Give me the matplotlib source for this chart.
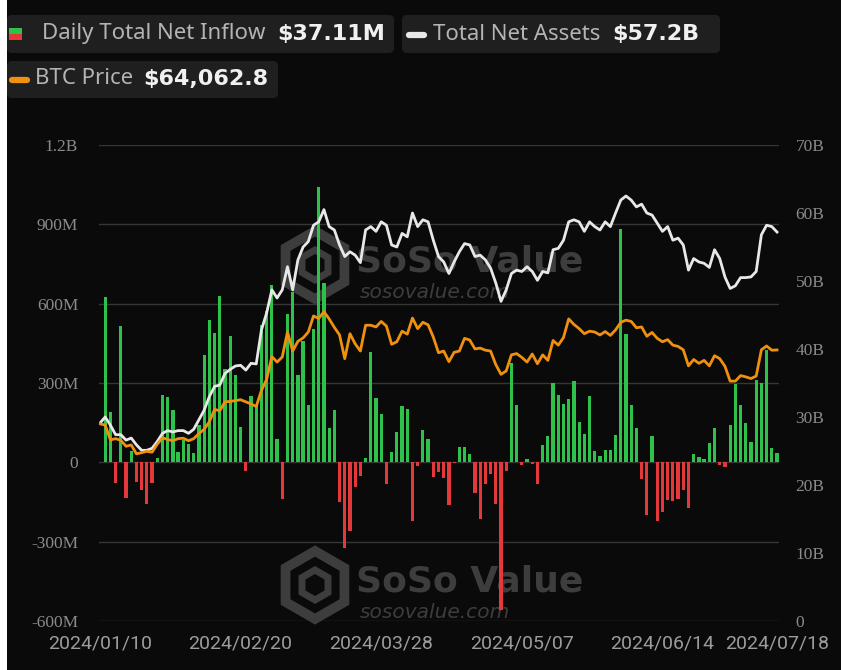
import numpy as np
import pandas as pd
import matplotlib
matplotlib.use("Agg")
import matplotlib.pyplot as plt
from matplotlib.patches import FancyBboxPatch, Rectangle, RegularPolygon

# trading days (US holidays removed)
holidays = ["2024-01-15", "2024-02-19", "2024-03-29", "2024-05-27", "2024-06-19", "2024-07-04"]
dates = pd.bdate_range("2024-01-10", "2024-07-18").drop(pd.to_datetime(holidays))

# daily total net inflow, $M
inflow = [0, 624, 191, -77, 515, -133, 43, -75, -104, -157,
          -77, 15, 254, 246, 197, 38, 84, 68, 34, 140,
          404, 538, 490, 628, 354, 476, 329, 134, -33, 251,
          212, 520, 574, 670, 90, -138, 561, 643, 331, 457,
          218, 505, 1042, 680, 131, 197, -151, -324, -259, -92,
          -51, 15, 417, 244, 182, -83, 40, 113, 212, 203,
          -221, -14, 122, 90, -54, -35, -58, -161, -4, 59,
          59, 30, -117, -213, -83, -45, -158, -560, -33, 377,
          216, -10, 11, -8, -82, 65, 100, 301, 254, 220,
          241, 306, 151, 107, 251, 43, 25, 46, 46, 103,
          884, 486, 216, 131, -64, -198, 100, -223, -186, -144,
          -148, -138, -104, -173, 30, 21, 11, 72, 128, -10,
          -19, 143, 298, 216, 147, 78, 310, 301, 423, 53,
          37]

# total net assets, $B
net_assets = [29.1, 30.0, 28.8, 27.4, 27.4, 26.6, 26.9, 25.9, 25.1, 25.1,
              25.4, 26.4, 27.6, 28.0, 27.8, 28.0, 28.0, 27.6, 28.2, 29.6,
              31.0, 33.0, 34.5, 34.7, 36.4, 37.0, 37.5, 37.6, 36.9, 37.9,
              37.8, 42.8, 45.3, 48.7, 47.5, 48.7, 52.1, 48.7, 53.1, 55.0,
              55.8, 58.2, 58.7, 60.5, 58.0, 57.5, 55.3, 53.6, 54.3, 53.8,
              52.7, 57.5, 58.0, 57.3, 58.7, 58.2, 55.3, 55.0, 57.0, 56.5,
              60.0, 58.0, 59.0, 58.7, 56.0, 53.6, 52.8, 51.1, 52.8, 54.3,
              55.5, 55.3, 53.6, 53.8, 53.1, 51.9, 49.7, 47.0, 48.7, 51.1,
              51.6, 51.4, 52.1, 51.4, 50.1, 51.4, 51.2, 54.6, 54.8, 56.0,
              58.7, 59.0, 58.7, 57.3, 58.7, 58.0, 57.5, 58.7, 58.0, 60.0,
              61.9, 62.5, 61.9, 60.9, 61.3, 60.0, 59.7, 58.5, 57.3, 58.0,
              56.0, 56.3, 55.3, 51.6, 53.3, 52.8, 52.6, 52.0, 54.6, 53.3,
              50.6, 48.9, 49.3, 50.5, 50.5, 50.6, 51.4, 56.8, 58.2, 58.0,
              57.2]

# BTC price, $
btc_price = [46600, 46300, 42800, 43100, 42700, 41300, 41600, 39500, 39800, 40100,
             39900, 41800, 43300, 42900, 42600, 43100, 43200, 42600, 43100, 44300,
             45300, 47100, 50000, 49700, 51800, 51900, 52100, 52300, 51800, 51300,
             50700, 54500, 57100, 62500, 61200, 62400, 68300, 63800, 66100, 66900,
             68300, 72100, 71500, 73100, 71400, 69400, 67600, 62000, 67900, 65500,
             63800, 69900, 69900, 69500, 70800, 69700, 65400, 66000, 68500, 67800,
             71600, 69100, 70600, 70000, 67100, 63400, 63800, 61300, 63500, 63800,
             66800, 66400, 64300, 64500, 64000, 63800, 60600, 58300, 59100, 62900,
             63200, 62300, 61200, 63100, 60800, 62900, 61600, 66300, 65200, 67000,
             71400, 70100, 69100, 67900, 68500, 68300, 67600, 68400, 67500, 68800,
             70600, 71100, 70800, 69300, 69500, 67300, 68200, 66800, 66000, 66500,
             65200, 64900, 64100, 60300, 61800, 60900, 61600, 60300, 62700, 62000,
             60200, 56700, 56700, 58000, 57700, 57300, 57900, 64100, 65000, 64000,
             64063]

tick_dates = ["2024-01-10", "2024-02-20", "2024-03-28", "2024-05-07", "2024-06-14", "2024-07-18"]
left_ticks = [-600, -300, 0, 300, 600, 900, 1200]
left_labels = ["-600M", "-300M", "0", "300M", "600M", "900M", "1.2B"]
right_ticks = [0, 10, 20, 30, 40, 50, 60, 70]
right_labels = ["0", "10B", "20B", "30B", "40B", "50B", "60B", "70B"]

BG = "#0a0a0a"
GREEN = "#2ec24a"
RED = "#e5383b"
ORANGE = "#f0900f"
WHITE = "#e8e8e8"
GRID = "#363636"
TICK = "#8a8a8a"

W, H = 841, 670
fig = plt.figure(figsize=(W / 100, H / 100), dpi=100, facecolor=BG)


def inch(x, y):
    # pixel position (from top-left) -> inches for dpi_scale_trans
    return x / 100, (H - y) / 100


ax = fig.add_axes([99 / W, 1 - 621 / H, (779 - 99) / W, (621 - 145) / H])
ax.set_facecolor("none")
x = np.arange(len(dates))
flow = np.array(inflow)
ax.bar(x, flow, width=0.62, color=np.where(flow >= 0, GREEN, RED), zorder=2)
ax.set_ylim(-600, 1200)
ax.set_xlim(-0.19, 130.38)
ax.set_yticks(left_ticks)
ax.set_yticklabels(left_labels, family=["Liberation Serif", "DejaVu Serif"], fontsize=12.5, color=TICK)
ax.yaxis.grid(True, color=GRID, lw=1, zorder=0)
ax.tick_params(axis="y", length=0, pad=15)
pos = [list(dates).index(pd.Timestamp(d)) for d in tick_dates]
ax.set_xticks(pos)
ax.set_xticklabels([dates[p].strftime("%Y/%m/%d") for p in pos],
                   family=["Roboto", "DejaVu Sans"], fontsize=14, color="#9c9c9c")
ax.tick_params(axis="x", length=0, pad=10)
for s in ax.spines.values():
    s.set_visible(False)

ax2 = ax.twinx()
ax2.plot(x, net_assets, color=WHITE, lw=2, zorder=3)
ax2.set_ylim(0, 70)
ax2.set_yticks(right_ticks)
ax2.set_yticklabels(right_labels, family=["Liberation Serif", "DejaVu Serif"], fontsize=12.5, color=TICK)
ax2.tick_params(axis="y", length=0, pad=12)
for s in ax2.spines.values():
    s.set_visible(False)

ax3 = ax.twinx()
ax3.plot(x, btc_price, color=ORANGE, lw=2, zorder=3)
ax3.set_ylim(0, 112500)
ax3.set_xlim(-0.19, 130.38)
ax3.axis("off")

# watermarks
wm = "#3d3d3d"
for cy in (265, 585):
    hx, hy = inch(315, cy)
    fig.patches.append(RegularPolygon((hx, hy), 6, radius=0.34, orientation=0, fill=False,
                                      edgecolor=wm, lw=7, transform=fig.dpi_scale_trans, zorder=-1))
    fig.patches.append(RegularPolygon((hx, hy), 6, radius=0.15, orientation=0, fill=False,
                                      edgecolor=wm, lw=5, transform=fig.dpi_scale_trans, zorder=-1))
    tx, ty = inch(356, cy - 4)
    fig.text(tx / (W / 100), ty / (H / 100), "SoSo Value", fontsize=26, fontweight="bold",
             color=wm, family="DejaVu Sans", va="center", ha="left", zorder=-1)
    sx, sy = inch(360, cy + 28)
    fig.text(sx / (W / 100), sy / (H / 100), "sosovalue.com", fontsize=14.5, style="italic",
             color=wm, family="DejaVu Sans", va="center", ha="left", zorder=-1)

# left white strip of the screenshot
fig.patches.append(Rectangle((0, 0), 0.07, H / 100, facecolor="white", edgecolor="none",
                             transform=fig.dpi_scale_trans, zorder=5))

# legend boxes
BOX = "#1f1f1f"
for (x0, y0, x1, y1) in [(7, 15, 394, 53), (402, 15, 720, 53), (7, 61, 278, 98)]:
    bx, by = inch(x0, y1)
    fig.patches.append(FancyBboxPatch((bx, by), (x1 - x0) / 100, (y1 - y0) / 100,
                                      boxstyle="round,pad=0,rounding_size=0.05",
                                      facecolor=BOX, edgecolor="none",
                                      transform=fig.dpi_scale_trans, zorder=4))

# legend icons
gx, gy = inch(9, 40)
fig.patches.append(Rectangle((gx, gy), 0.13, 0.06, facecolor=RED, edgecolor="none",
                             transform=fig.dpi_scale_trans, zorder=6))
fig.patches.append(Rectangle((gx, gy + 0.06), 0.13, 0.06, facecolor=GREEN, edgecolor="none",
                             transform=fig.dpi_scale_trans, zorder=6))
for (a, b, yy, c) in [(409, 424, 35, WHITE), (12, 27, 80, ORANGE)]:
    p0 = inch(a, yy)
    p1 = inch(b, yy)
    fig.lines.append(plt.Line2D([p0[0], p1[0]], [p0[1], p1[1]], color=c, lw=4.5,
                                solid_capstyle="round", transform=fig.dpi_scale_trans, zorder=6))

lab = dict(family=["Noto Sans", "DejaVu Sans"], fontsize=16, color="#b4b4b4", va="center", zorder=7)
val = dict(family="DejaVu Sans", fontsize=16, fontweight="bold", color="#f0f0f0",
           va="center", zorder=7)
legend_items = [(42, 277, 34, "Daily Total Net Inflow", "$37.11M"),
                (433, 612, 34, "Total Net Assets", "$57.2B"),
                (35, 143, 79, "BTC Price", "$64,062.8")]
for (lx, vx, yy, name, value) in legend_items:
    fig.text(lx / W, 1 - yy / H, name, **lab)
    fig.text(vx / W, 1 - yy / H, value, **val)

fig.savefig("out.png", dpi=100, facecolor=BG)
